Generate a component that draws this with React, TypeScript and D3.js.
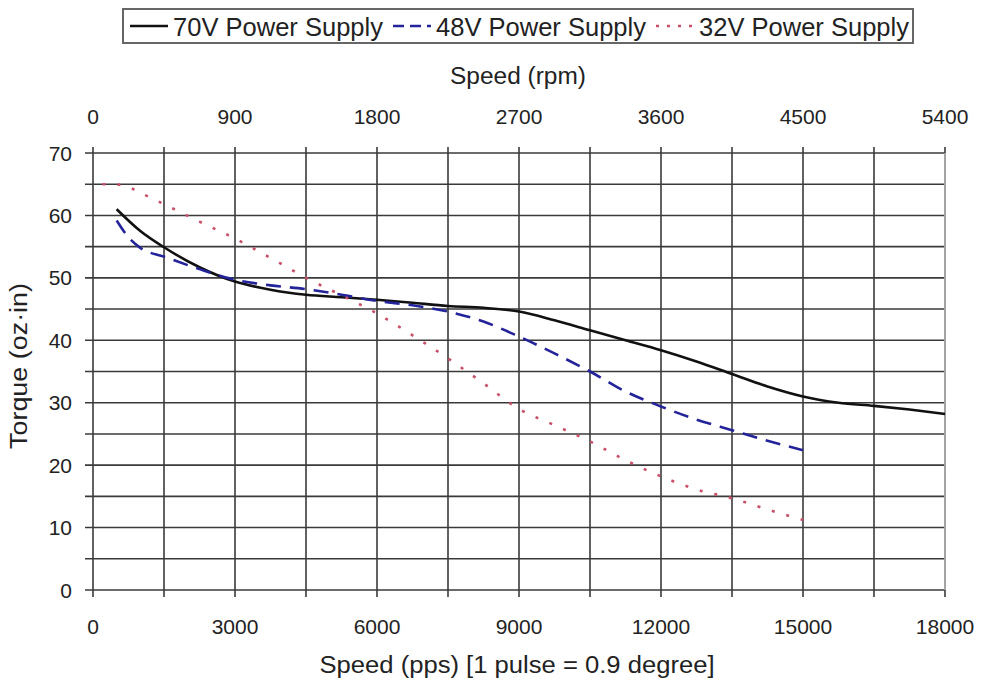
import React from "react";
import * as d3 from "d3";

const ppsTicks = [0, 3000, 6000, 9000, 12000, 15000, 18000];
const rpmTicks = [0, 900, 1800, 2700, 3600, 4500, 5400];
const torqueTicks = [0, 10, 20, 30, 40, 50, 60, 70];

const pps70 = [500, 1000, 1500, 2250, 3000, 3750, 4500, 5250, 6000, 6750, 7500, 8250, 9000, 9750, 10500, 11250, 12000, 12750, 13500, 14250, 15000, 15750, 16500, 17250, 18000];
const t70 = [61, 57.5, 54.9, 51.7, 49.4, 48.1, 47.3, 46.9, 46.5, 46.0, 45.5, 45.2, 44.6, 43.2, 41.6, 40.0, 38.4, 36.6, 34.6, 32.6, 31.0, 30.0, 29.5, 28.9, 28.2];

const pps48 = [500, 750, 1000, 1500, 2250, 3000, 3750, 4500, 5250, 6000, 6750, 7500, 8250, 9000, 9750, 10500, 11250, 12000, 12750, 13500, 14250, 15000];
const t48 = [59.2, 56.5, 54.8, 53.4, 51.4, 49.7, 48.8, 48.2, 47.3, 46.3, 45.6, 44.6, 43.0, 40.6, 37.9, 35.0, 31.8, 29.4, 27.3, 25.6, 23.9, 22.4];

const pps32 = [200, 600, 1000, 1500, 2250, 3000, 3750, 4500, 5250, 6000, 6750, 7500, 8250, 9000, 9750, 10500, 11250, 12000, 12750, 13500, 14250, 15000];
const t32 = [65, 64.9, 63.6, 61.8, 59.0, 56.3, 53.2, 50.0, 47.2, 44.3, 40.8, 37.1, 33.1, 29.0, 26.4, 23.8, 20.8, 18.2, 16.1, 14.7, 12.9, 11.2];

const seriesNames = ["70V Power Supply", "48V Power Supply", "32V Power Supply"];

const W = 983;
const H = 681;
const FONT = "'Liberation Sans', Arial, sans-serif";
const TEXT = "#222";

export default function App() {
  const x = d3.scaleLinear().domain([0, 18000]).range([93, 945]);
  const xTop = d3.scaleLinear().domain([0, 5400]).range([93, 945]);
  const y = d3.scaleLinear().domain([0, 70]).range([590, 153]);

  const line = d3
    .line<[number, number]>()
    .x((d) => x(d[0]))
    .y((d) => y(d[1]))
    .curve(d3.curveMonotoneX);

  const vGrid = d3.range(0, 18001, 1500);
  const hGrid = d3.range(0, 71, 5);

  const series = [
    { name: seriesNames[0], data: pps70.map((p, i) => [p, t70[i]] as [number, number]), color: "#111111", width: 2.6, dash: undefined, cap: "butt" },
    { name: seriesNames[1], data: pps48.map((p, i) => [p, t48[i]] as [number, number]), color: "#23239a", width: 2.6, dash: "15,9", cap: "butt" },
    { name: seriesNames[2], data: pps32.map((p, i) => [p, t32[i]] as [number, number]), color: "#c85068", width: 2.6, dash: "3,12", cap: "butt" },
  ];

  const legendX = [130, 393, 656];

  return (
    <svg width={W} height={H} style={{ position: "absolute", left: 0, top: 0, background: "#fff" }} fontFamily={FONT}>
      <rect x={0} y={0} width={W} height={H} fill="#fff" />
      {/* grid */}
      {hGrid.map((v) => (
        <line key={"h" + v} x1={x(0) - 8} x2={x(18000)} y1={y(v)} y2={y(v)} stroke="#3a3a3a" strokeWidth={1.6} />
      ))}
      {vGrid.map((v) => (
        <line key={"v" + v} x1={x(v)} x2={x(v)} y1={y(70) - 6} y2={y(0) + 7} stroke="#3a3a3a" strokeWidth={1.6} />
      ))}
      <line x1={x(18000)} x2={x(18000)} y1={y(70)} y2={y(0)} stroke="#bbb" strokeWidth={1.5} />

      {/* series */}
      {series.map((s) => (
        <path key={s.name} d={line(s.data) || ""} fill="none" stroke={s.color} strokeWidth={s.width} strokeDasharray={s.dash} strokeLinecap={s.cap as any} />
      ))}

      {/* left ticks */}
      {torqueTicks.map((t) => (
        <text key={"yt" + t} x={72} y={y(t)} dy="0.36em" textAnchor="end" fontSize={21} fill={TEXT}>
          {t}
        </text>
      ))}
      {/* bottom ticks */}
      {ppsTicks.map((t) => (
        <text key={"xb" + t} x={x(t)} y={634} textAnchor="middle" fontSize={21} fill={TEXT}>
          {t}
        </text>
      ))}
      {/* top ticks */}
      {rpmTicks.map((t) => (
        <text key={"xt" + t} x={xTop(t)} y={124} textAnchor="middle" fontSize={21} fill={TEXT}>
          {t}
        </text>
      ))}

      {/* axis titles */}
      <text x={518} y={84} textAnchor="middle" fontSize={23} fill={TEXT} textLength={136} lengthAdjust="spacingAndGlyphs">
        Speed (rpm)
      </text>
      <text x={517} y={673} textAnchor="middle" fontSize={23} fill={TEXT} textLength={395} lengthAdjust="spacingAndGlyphs">
        {"Speed (pps)  [1 pulse = 0.9 degree]"}
      </text>
      <text transform={`translate(27,366) rotate(-90)`} textAnchor="middle" fontSize={23} fill={TEXT} textLength={166} lengthAdjust="spacingAndGlyphs">
        Torque (oz·in)
      </text>

      {/* legend */}
      <rect x={123} y={9} width={790} height={34} fill="#fff" stroke="#666" strokeWidth={2} />
      {series.map((s, i) => (
        <g key={"lg" + i}>
          <line x1={legendX[i]} x2={legendX[i] + 38} y1={26} y2={26} stroke={s.color} strokeWidth={s.width} strokeDasharray={i === 1 ? "11,6" : i === 2 ? "3,8" : undefined} />
          <text x={legendX[i] + 43} y={36} fontSize={25} fill={TEXT} textLength={210} lengthAdjust="spacingAndGlyphs">
            {s.name}
          </text>
        </g>
      ))}
    </svg>
  );
}
